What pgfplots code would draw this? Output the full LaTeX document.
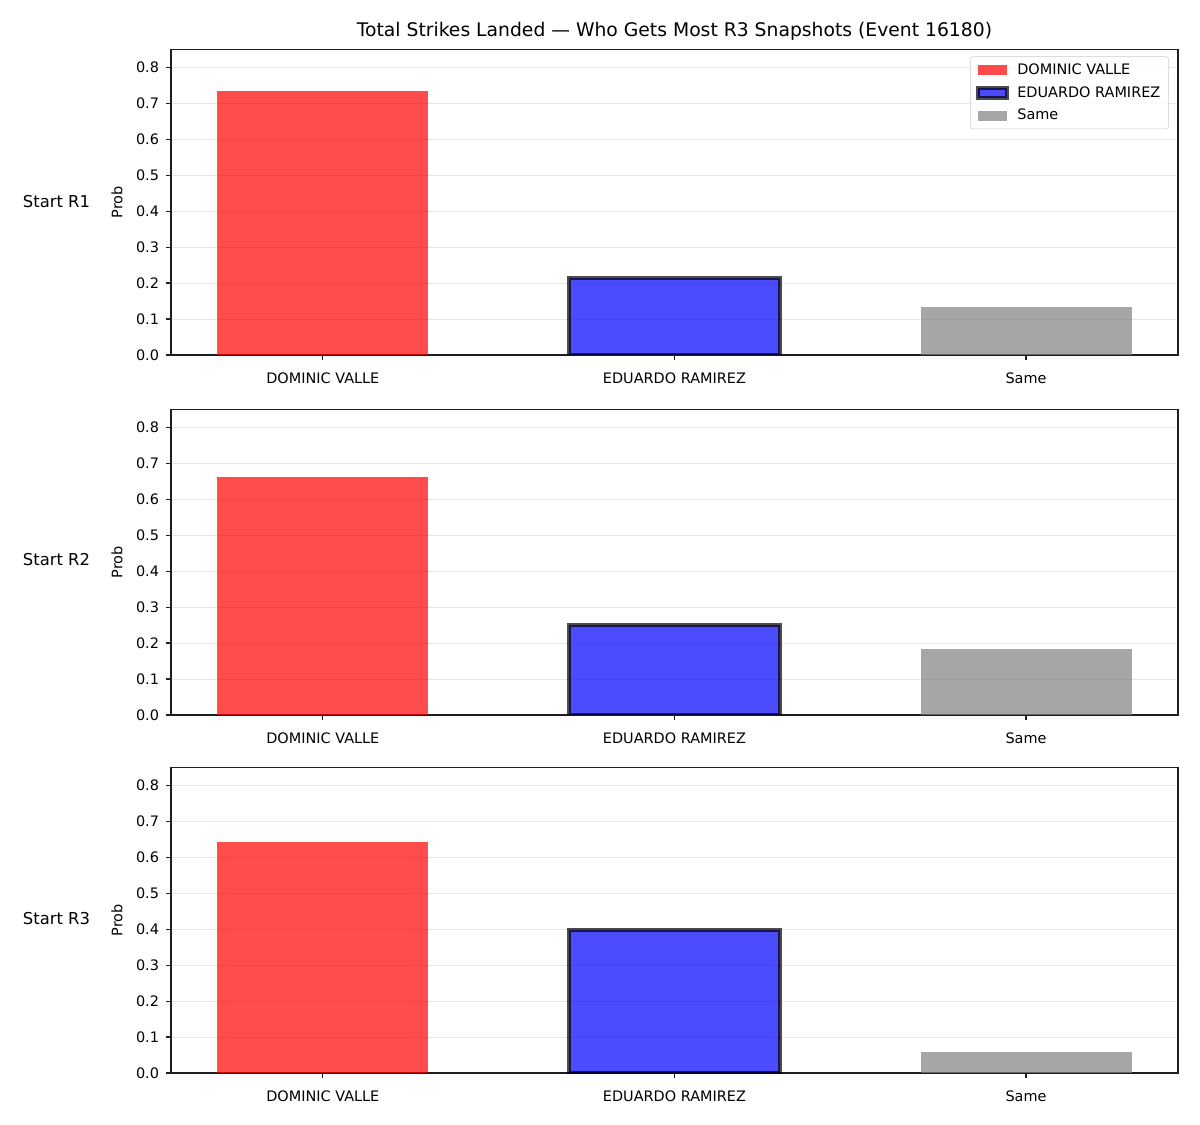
\documentclass[border=0pt]{standalone}
\usepackage{fontspec}
\setmainfont{DejaVu Sans}
\usepackage{pgfplots}
\pgfplotsset{compat=1.18}
\definecolor{gridc}{RGB}{230,230,230}
\definecolor{spine}{RGB}{30,30,30}
\definecolor{legc}{RGB}{204,204,204}
\pgfplotsset{
  mybar/.style={ybar, bar width=0.6, bar shift=0pt,
    legend image code/.code={\path[##1, sharp corners] (0bp,-3.6bp) rectangle (20.9bp,3.6bp);
      \path (25bp,0bp);}},
  redbar/.style={mybar, fill=red, fill opacity=0.7, draw=none},
  bluebar/.style={mybar, fill=blue, fill opacity=0.7, draw=black, draw opacity=0.7, line width=2.9bp},
  graybar/.style={mybar, fill=gray, fill opacity=0.7, draw=none},
  panel/.style={
    scale only axis, width=725bp, height=220bp, anchor=south west,
    xmin=-0.432, xmax=2.432, ymin=0, ymax=0.85,
    xtick={0,1,2}, xticklabels={DOMINIC VALLE, EDUARDO RAMIREZ, Same},
    ytick={0,0.1,...,0.8},
    tick label style={font=\fontsize{10.4bp}{12bp}\selectfont, text=black},
    xticklabel style={yshift=-5.5bp},
    yticklabel style={xshift=-1.5bp, /pgf/number format/.cd, fixed, fixed zerofill, precision=1, assume math mode=true},
    tick align=outside, major tick length=3.6bp, tick style={spine, line width=0.9bp},
    xtick pos=bottom, ytick pos=left,
    ymajorgrids, major grid style={gridc, line width=0.6bp},
    axis line style={spine, line width=1.0bp},
    ylabel={Prob},
    ylabel style={at={(axis description cs:-0.0537,0.5)}, anchor=center, font=\fontsize{10.4bp}{12bp}\selectfont},
    legend style={at={(1,1)}, anchor=north east, xshift=-6.5bp, yshift=-5bp,
      draw=legc, rounded corners=2bp, fill=white, fill opacity=0.8, text opacity=1,
      font=\fontsize{10.4bp}{12bp}\selectfont, row sep=3.2bp, inner xsep=4bp, inner ysep=3bp,
      cells={anchor=west}},
  }
}
\begin{document}
\begin{tikzpicture}
\useasboundingbox (0,0) rectangle (864bp,810bp);
\node[font=\fontsize{13.5bp}{15bp}\selectfont] at (485.6bp,787.2bp) {Total Strikes Landed — Who Gets Most R3 Snapshots (Event 16180)};
\node[anchor=west, font=\fontsize{11.8bp}{14bp}\selectfont] at (13bp,664.6bp) {Start R1};
\node[anchor=west, font=\fontsize{11.8bp}{14bp}\selectfont] at (13bp,406.8bp) {Start R2};
\node[anchor=west, font=\fontsize{11.8bp}{14bp}\selectfont] at (13bp,149.0bp) {Start R3};

\begin{axis}[panel, at={(123.1bp,554.4bp)}]
\addplot[redbar] coordinates {(0,0.735)};
\addlegendentry{DOMINIC VALLE}
\addplot[bluebar] coordinates {(1,0.215)};
\addlegendentry{EDUARDO RAMIREZ}
\addplot[graybar] coordinates {(2,0.134)};
\addlegendentry{Same}
\end{axis}

\begin{axis}[panel, at={(123.1bp,295.2bp)}]
\addplot[redbar] coordinates {(0,0.661)};
\addplot[bluebar] coordinates {(1,0.250)};
\addplot[graybar] coordinates {(2,0.183)};
\end{axis}

\begin{axis}[panel, at={(123.1bp,37.4bp)}]
\addplot[redbar] coordinates {(0,0.642)};
\addplot[bluebar] coordinates {(1,0.397)};
\addplot[graybar] coordinates {(2,0.058)};
\end{axis}
\end{tikzpicture}
\end{document}
